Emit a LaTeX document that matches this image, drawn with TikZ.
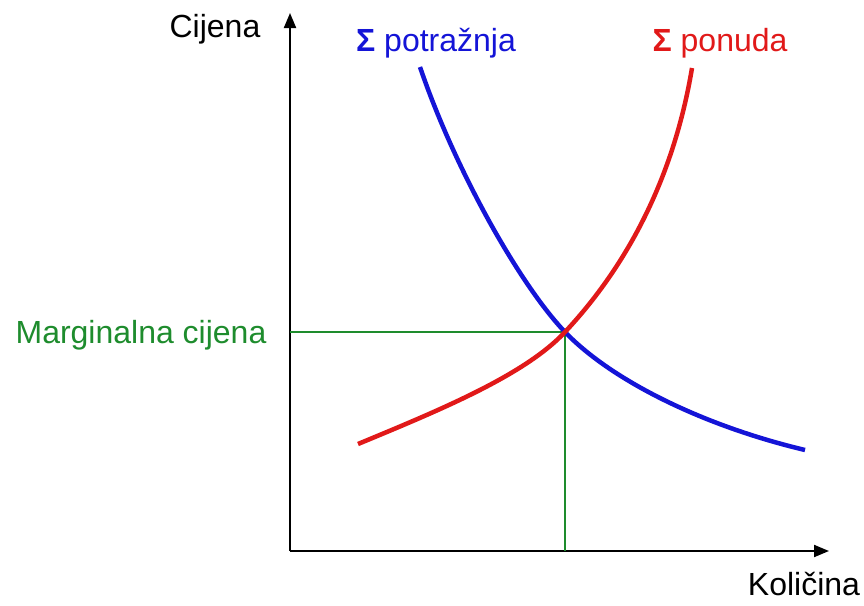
\documentclass[tikz,border=0pt]{standalone}
\usepackage{fontspec}
\setmainfont{Liberation Sans}
\usetikzlibrary{arrows.meta}
\definecolor{dblue}{RGB}{20,20,215}
\definecolor{sred}{RGB}{225,25,25}
\definecolor{mgreen}{RGB}{30,140,45}
\tikzset{
  axis/.style={line width=2pt, -{Triangle[length=15pt,width=12pt]}},
  curve/.style={line width=4.5pt},
  guide/.style={mgreen, line width=1.2pt},
  lbl/.style={anchor=base, inner sep=0pt, font=\fontsize{32}{38}\selectfont},
}
\begin{document}
\begin{tikzpicture}[x=1pt,y=-1pt]
  \useasboundingbox (0,0) rectangle (864,605);
  \coordinate (o) at (290,551);
  \coordinate (ytop) at (290,13);
  \coordinate (xend) at (829,551);
  \coordinate (eq) at (565,332);
  \coordinate (pm) at (290,332);
  \coordinate (qm) at (565,551);
  % axes
  \draw[axis] (o) -- (ytop);
  \draw[axis] (o) -- (xend);
  % marginal price lines
  \draw[guide] (pm) -- (eq) -- (qm);
  % curves
  \draw[curve, dblue] (420,67) .. controls (455,170) and (520,285) .. (eq)
    .. controls (610,379) and (700,425) .. (805,450);
  \draw[curve, sred] (358,444) .. controls (440,410) and (525,375) .. (eq)
    .. controls (610,284) and (670,200) .. (692,68);
  % labels
  \node[lbl] (cijena) at (215,37) {Cijena};
  \node[lbl] (kolicina) at (804,595) {Količina};
  \node[lbl, dblue] (potraznja) at (436,51) {{\bfseries Σ} potražnja};
  \node[lbl, sred] (ponuda) at (720,51) {{\bfseries Σ} ponuda};
  \node[lbl, mgreen] (mcijena) at (141,343) {Marginalna cijena};
\end{tikzpicture}
\end{document}
